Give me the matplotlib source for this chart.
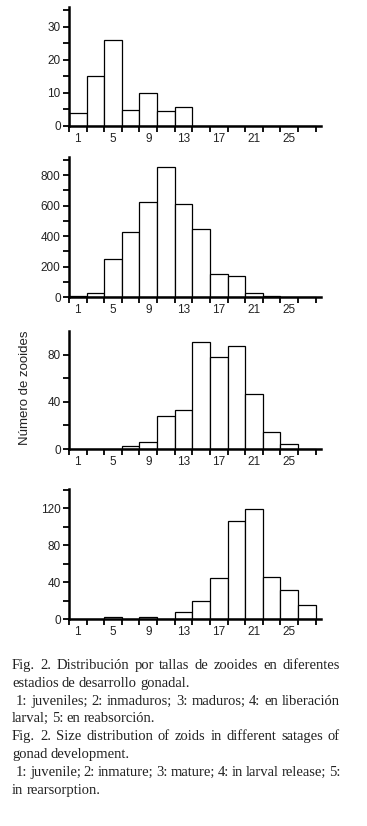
import numpy as np
import matplotlib
matplotlib.use("Agg")
import matplotlib.pyplot as plt

# size classes (bin centres, width 2)
sizes = np.arange(1, 29, 2)

# counts per size class for each gonad stage
juveniles = [4, 15, 26, 4.7, 10, 4.5, 5.8, 0, 0, 0, 0, 0, 0, 0]
inmaduros = [7, 24, 247, 428, 623, 855, 608, 444, 149, 140, 24, 7, 0, 0]
maduros = [0, 0, 0, 2.2, 5.6, 28, 33.3, 90.3, 78.3, 87.3, 46.2, 14.8, 3.9, 0]
liberacion = [0, 0, 2.5, 0.5, 2.5, 0.5, 8, 20, 44, 106.6, 119, 45.3, 31.2, 15.6]

xtick_labels = [1, 5, 9, 13, 17, 21, 25]
ylabel = "Número de zooides"

caption = [
    ("Fig. 2. Distribución por tallas de zooides en diferentes", True, 0),
    ("estadios de desarrollo gonadal.", False, 0),
    ("1: juveniles; 2: inmaduros; 3: maduros; 4: en liberación", True, 4),
    ("larval; 5: en reabsorción.", False, 0),
    ("Fig. 2. Size distribution of zoids in different satages of", True, 0),
    ("gonad development.", False, 0),
    ("1: juvenile; 2: inmature; 3: mature; 4: in larval release; 5:", True, 4),
    ("in rearsorption.", False, 0),
]

W, H = 367, 826
fig = plt.figure(figsize=(W / 100, H / 100), dpi=100)
fig.patch.set_facecolor("white")

# panel layout in pixels: (zero line y, top of axis y, ylim top, major step, minor step)
panels = [
    (juveniles, 126, 7, 36, 10, 5),
    (inmaduros, 297, 157, 920, 200, 100),
    (maduros, 449, 331, 100, 40, 20),
    (liberacion, 619, 489, 141, 40, 20),
]

left_px, right_px = 69, 321
for vals, y0, y1, ytop, major, minor in panels:
    ax = fig.add_axes([left_px / W, 1 - y0 / H, (right_px - left_px) / W, (y0 - y1) / H])
    ax.bar(sizes, vals, width=2, color="white", edgecolor="black", linewidth=0.9, zorder=2)
    ax.set_xlim(0, 28.6)
    ax.set_ylim(0, ytop)
    for s in ["top", "right"]:
        ax.spines[s].set_visible(False)
    for s in ["left", "bottom"]:
        ax.spines[s].set_linewidth(1.8)
        ax.spines[s].set_zorder(3)
    ax.set_xticks(np.arange(0, 29, 2))
    ax.set_xticklabels([])
    ax.set_xticks(xtick_labels, minor=True)
    ax.set_xticklabels([str(v) for v in xtick_labels], minor=True,
                       fontsize=8.5, family="Liberation Sans", color="#222222")
    ax.tick_params(axis="x", which="major", direction="out", length=4, width=1.3)
    ax.tick_params(axis="x", which="minor", length=0, pad=5)
    ax.set_yticks(np.arange(0, ytop, major))
    ax.set_yticks(np.arange(0, ytop, minor), minor=True)
    ax.set_yticklabels([str(int(v)) for v in np.arange(0, ytop, major)],
                       fontsize=8.5, family="Liberation Sans", color="#222222")
    ax.tick_params(axis="y", which="both", direction="out", length=4, width=1.3, pad=2)

fig.text(25 / W, 1 - 388 / H, ylabel, rotation=90, ha="center", va="center",
         fontsize=9.5, family="Liberation Sans", color="#222222")

# caption, justified like the printed page
renderer = fig.canvas.get_renderer()
cap_left, cap_right = 12, 340
line_y = 669
for text, justify, indent in caption:
    words = text.split(" ")
    objs = []
    widths = []
    for w in words:
        t = fig.text(0, 1 - line_y / H, w, fontsize=10.5, family="Liberation Serif",
                     va="baseline", ha="left", color="#222222")
        objs.append(t)
        widths.append(t.get_window_extent(renderer).width)
    start = cap_left + indent
    if justify and len(words) > 1:
        gap = (cap_right - start - sum(widths)) / (len(words) - 1)
    else:
        gap = 3.2
    x = start
    for t, wd in zip(objs, widths):
        t.set_x(x / W)
        x += wd + gap
    line_y += 17.8

fig.savefig("out.png", dpi=100, facecolor="white")
